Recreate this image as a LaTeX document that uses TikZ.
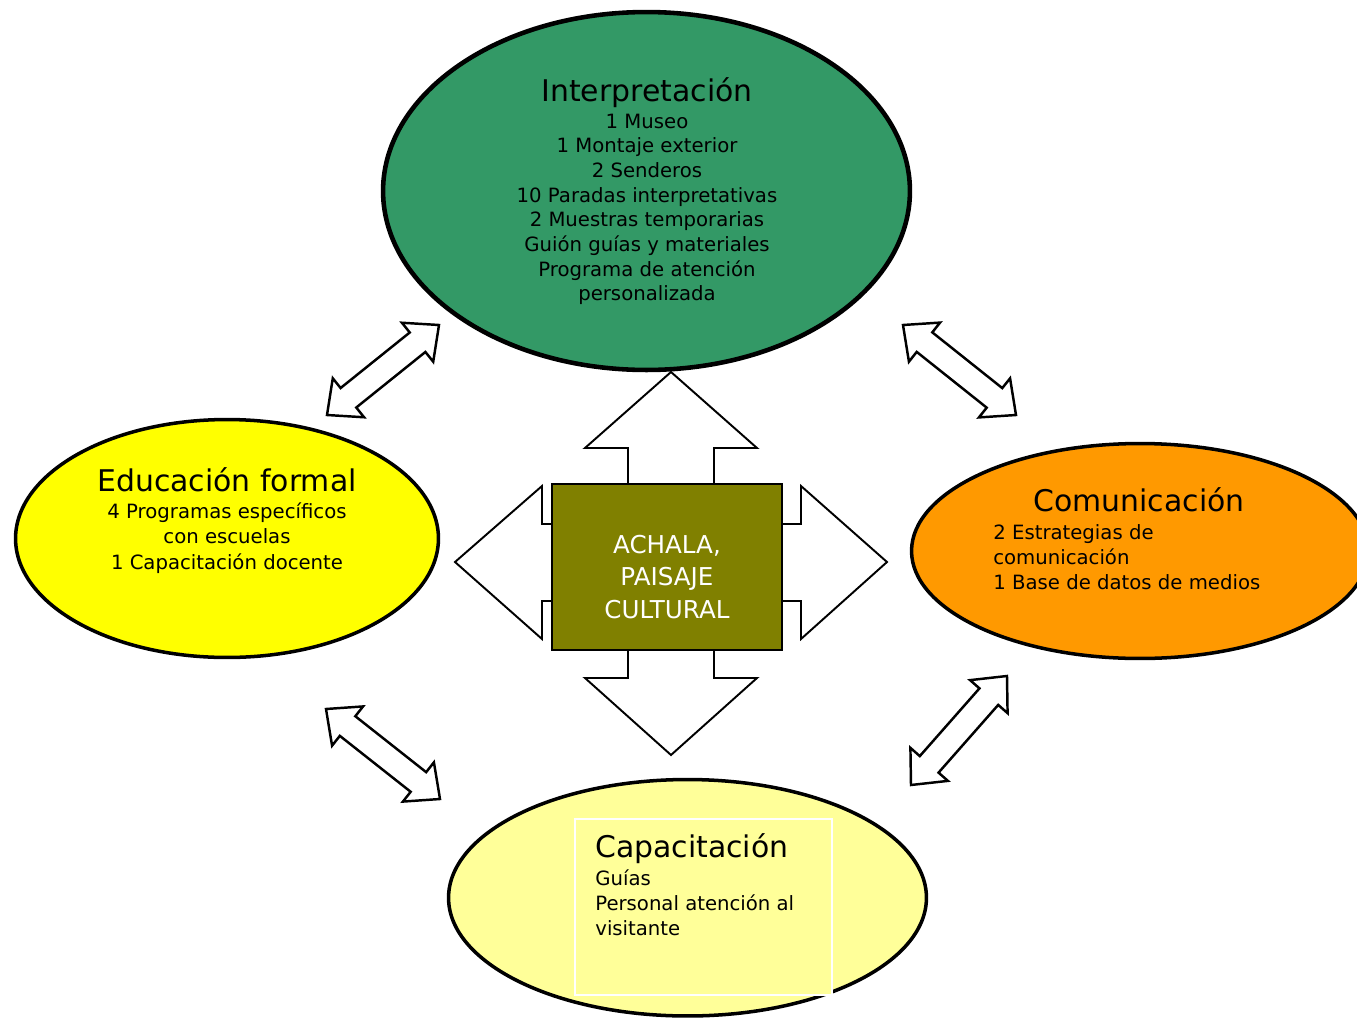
\documentclass[tikz,border=0pt]{standalone}
\usepackage{fontspec}
\setmainfont{DejaVu Sans}
\usepackage{xcolor}
\usetikzlibrary{shapes.geometric, calc, positioning}

\definecolor{interpgreen}{RGB}{51,153,102}
\definecolor{educyellow}{RGB}{255,255,0}
\definecolor{comunorange}{RGB}{255,153,0}
\definecolor{capacyellow}{RGB}{255,255,153}
\definecolor{achalaolive}{RGB}{128,128,0}

\tikzset{
  blob/.style={ellipse, draw, line width=2pt, inner sep=0pt},
  headtext/.style={font=\fontsize{17}{20}\selectfont, inner sep=0pt, anchor=base},
  bodytext/.style={font=\fontsize{11.2}{14}\selectfont, inner sep=0pt, anchor=base},
  achalatext/.style={font=\fontsize{14}{18}\selectfont, text=white, inner sep=0pt, anchor=base},
  fatarrow/.style={draw, fill=white, line width=1.1pt, line join=miter},
  dblarr/.style={draw, fill=white, line width=1.4pt, line join=miter},
}

% double block arrow between two named coordinates
\newcommand{\dblarrow}[2]{%
  \coordinate (#1h) at ($(#1)!0.55cm!(#2)$);
  \coordinate (#2h) at ($(#2)!0.55cm!(#1)$);
  \draw[dblarr] (#1) -- ($(#1h)!0.5cm!90:(#2)$) -- ($(#1h)!0.25cm!90:(#2)$)
    -- ($(#2h)!0.25cm!-90:(#1)$) -- ($(#2h)!0.5cm!-90:(#1)$) -- (#2)
    -- ($(#2h)!0.5cm!90:(#1)$) -- ($(#2h)!0.25cm!90:(#1)$)
    -- ($(#1h)!0.25cm!-90:(#2)$) -- ($(#1h)!0.5cm!-90:(#2)$) -- cycle;}

\begin{document}
\begin{tikzpicture}[x=0.02cm,y=-0.02cm]
\useasboundingbox (0,0) rectangle (1357,1018);

% the four areas
\node[blob, fill=interpgreen, line width=2.6pt, minimum width=10.54cm, minimum height=7.16cm] (interp) at (646.5,191) {};
\node[blob, fill=educyellow, minimum width=8.46cm, minimum height=4.76cm] (educ) at (227,538.5) {};
\node[blob, fill=comunorange, minimum width=9.14cm, minimum height=4.3cm] (comun) at (1140,551) {};
\node[blob, fill=capacyellow, minimum width=9.56cm, minimum height=4.73cm] (capac) at (687.5,897.75) {};
\node[draw=white, fill=capacyellow, line width=1pt, minimum width=5.14cm, minimum height=3.52cm, inner sep=0pt] (capac-box) at (703.5,907) {};

% block arrows out of the centre
\draw[fatarrow] (628,567) -- (628,448) -- (585,448) -- (671,372) -- (757,448) -- (714,448) -- (714,567) -- cycle;
\draw[fatarrow] (628,567) -- (628,678) -- (585,678) -- (671,755) -- (757,678) -- (714,678) -- (714,567) -- cycle;
\draw[fatarrow] (667,524) -- (542,524) -- (542,486) -- (455,562) -- (542,639) -- (542,601) -- (667,601) -- cycle;
\draw[fatarrow] (667,524) -- (801,524) -- (801,486) -- (887,562) -- (801,639) -- (801,601) -- (667,601) -- cycle;

\node[draw, fill=achalaolive, line width=1.1pt, minimum width=4.6cm, minimum height=3.32cm, inner sep=0pt] (achala) at (667,567) {};

% double arrows between the areas
\coordinate (ie-a) at (327,415);
\coordinate (ie-b) at (439,325);
\coordinate (ic-a) at (903,325);
\coordinate (ic-b) at (1016,415);
\coordinate (ec-a) at (326,709);
\coordinate (ec-b) at (440,799);
\coordinate (cc-a) at (911,785);
\coordinate (cc-b) at (1007,676);
\dblarrow{ie-a}{ie-b}
\dblarrow{ic-a}{ic-b}
\dblarrow{ec-a}{ec-b}
\dblarrow{cc-a}{cc-b}

% texts
\node[headtext] (interp-t) at (647,101.5) {Interpretación};
\foreach \t [count=\i from 0] in {1 Museo, 1 Montaje exterior, 2 Senderos, 10 Paradas interpretativas,
    2 Muestras temporarias, Guión guías y materiales, Programa de atención, personalizada}
  \node[bodytext] (interp-\i) at (647,{128.3+24.65*\i}) {\t};

\node[headtext] (educ-t) at (227,491) {Educación formal};
\foreach \t [count=\i from 0] in {4 Programas específicos, con escuelas, 1 Capacitación docente}
  \node[bodytext] (educ-\i) at (227,{518+25.5*\i}) {\t};

\node[headtext] (comun-t) at (1139,511) {Comunicación};
\foreach \t [count=\i from 0] in {2 Estrategias de, comunicación, 1 Base de datos de medios}
  \node[bodytext, anchor=base west] (comun-\i) at (993,{539+25*\i}) {\t};

\node[headtext, anchor=base west] (capac-t) at (595,857) {Capacitación};
\foreach \t [count=\i from 0] in {Guías, Personal atención al, visitante}
  \node[bodytext, anchor=base west] (capac-\i) at (595,{885+25.3*\i}) {\t};

\foreach \t [count=\i from 0] in {{ACHALA,}, PAISAJE, CULTURAL}
  \node[achalatext] (achala-\i) at (667,{553+32.5*\i}) {\t};
\end{tikzpicture}
\end{document}
